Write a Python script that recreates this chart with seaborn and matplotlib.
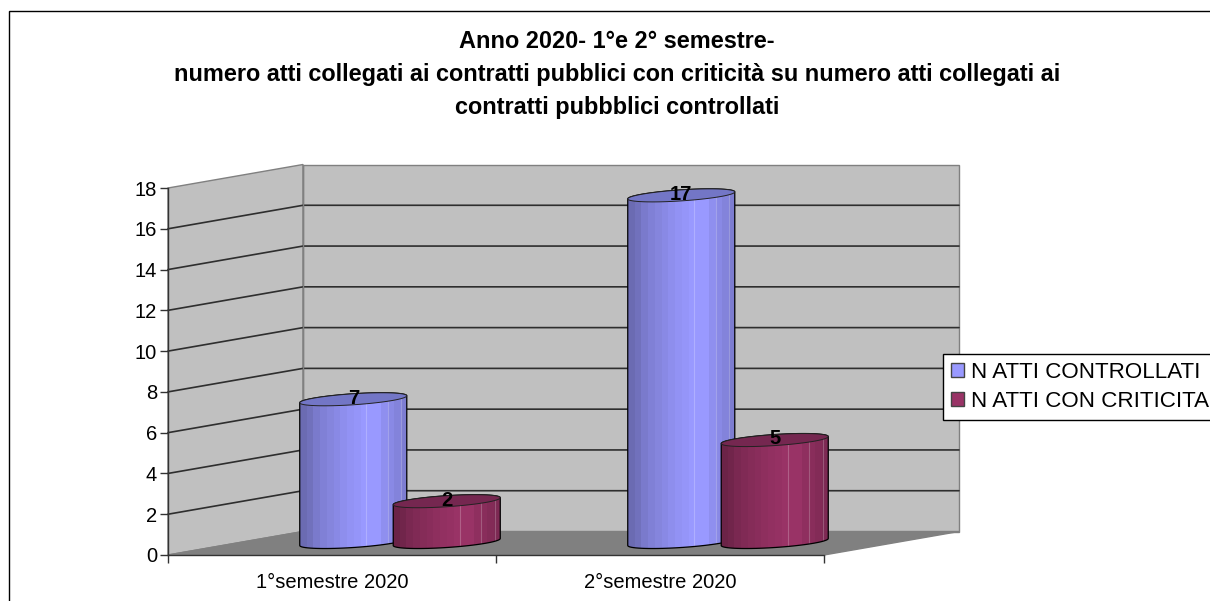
import numpy as np
import pandas as pd
import matplotlib
matplotlib.use("Agg")
import matplotlib.pyplot as plt
from matplotlib.patches import Polygon, Rectangle, PathPatch
from matplotlib.path import Path
from matplotlib.colors import to_rgb
import seaborn as sns

categories = ["1°semestre 2020", "2°semestre 2020"]
controllati = [7, 17]
criticita = [2, 5]
series_names = ["N ATTI CONTROLLATI", "N ATTI CON CRITICITA'"]
title = ("Anno 2020- 1°e 2° semestre-\n"
         "numero atti collegati ai contratti pubblici con criticità su numero atti collegati ai\n"
         "contratti pubbblici controllati")
y_ticks = list(range(0, 19, 2))
colors = ["#9999FF", "#993366"]
top_colors = ["#7376C6", "#752750"]

sns.set_theme(style="white")
plt.rcParams["font.family"] = ["Liberation Sans", "DejaVu Sans"]

W, H = 1210, 601
fig = plt.figure(figsize=(W / 100, H / 100), dpi=100, facecolor="white")


def axes_px(x0, x1, ytop, ybot, **kw):
    return fig.add_axes([x0 / W, 1 - ybot / H, (x1 - x0) / W, (ybot - ytop) / H], **kw)


# pixel-space background: frame, walls, floor, grid
bg = axes_px(0, W, 0, H, zorder=0)
bg.set_xlim(0, W)
bg.set_ylim(H, 0)
bg.axis("off")

fx0, fx1, fy0, fy18 = 168, 824, 555, 188
dx, dy = 135, -23.5
bg.add_patch(Rectangle((8.5, 10.5), W, H, fc="white", ec="black", lw=1))
bg.add_patch(Polygon([(fx0, fy18), (fx0 + dx, fy18 + dy), (fx0 + dx, fy0 + dy), (fx0, fy0)],
                     fc="#C0C0C0", ec="#808080", lw=1))
bg.add_patch(Rectangle((fx0 + dx, fy18 + dy), fx1 - fx0, fy0 - fy18,
                       fc="#C0C0C0", ec="#808080", lw=1))
bg.add_patch(Polygon([(fx0, fy0), (fx0 + dx, fy0 + dy), (fx1 + dx, fy0 + dy), (fx1, fy0)],
                     fc="#808080", ec="#808080", lw=1))

# front plane: axis scales, ticks and labels
front = axes_px(fx0, fx1, fy18, fy0, zorder=1)
front.patch.set_alpha(0)
front.set_xlim(-0.5, 1.5)
front.set_ylim(0, 18)
front.set_yticks(y_ticks)
front.set_xticks([-0.5, 0.5, 1.5])
front.set_xticklabels([])
front.set_xticks([0, 1], categories, minor=True)
front.tick_params(axis="both", which="major", length=6, width=1, color="#333333",
                  labelsize=14.5, labelcolor="black", pad=2, left=True, bottom=True)
front.tick_params(axis="x", which="minor", length=0, labelsize=14.5, pad=13, labelcolor="black")
for s in ["top", "right"]:
    front.spines[s].set_visible(False)
for s in ["left", "bottom"]:
    front.spines[s].set_color("#333333")
    front.spines[s].set_linewidth(1)

for v in y_ticks[1:-1]:
    py = fy0 + (fy18 - fy0) * v / 18
    bg.plot([fx0, fx0 + dx, fx1 + dx], [py, py + dy, py + dy], color="#2E2E2E", lw=1.2)
bg.plot([fx0 + dx] * 2, [fy18 + dy, fy0 + dy], color="#808080", lw=1)

# bars: seaborn bars on an axes shifted into the depth of the plot
ax = axes_px(fx0 + 68, fx1 + 68, 175, 552.2, zorder=2)
ax.patch.set_alpha(0)
df = pd.DataFrame({
    "cat": categories * 2,
    "val": controllati + criticita,
    "serie": [series_names[0]] * 2 + [series_names[1]] * 2,
})
sns.barplot(data=df, x="cat", y="val", hue="serie", palette=colors, width=0.57, gap=-0.145,
            ax=ax, saturation=1, legend=True, errorbar=None, linewidth=0)
ax.set_xlim(-0.5, 1.5)
ax.set_ylim(-0.5, 18)
xlim, ylim = ax.get_xlim(), ax.get_ylim()

bands = np.array([0.70, 0.74, 0.80, 0.84, 0.87, 0.90, 0.93, 0.96, 0.98, 1.0, 1.0, 1.0, 0.94, 0.90, 0.86, 0.82])
ell_b = 5.5 / 20.39
shear = 3.5 / 20.39
t_top = np.linspace(np.pi, 0, 40)
t_bot = np.linspace(0, -np.pi, 40)

for k, (cont, col, tcol) in enumerate(zip(ax.containers, colors, top_colors)):
    rgb = np.array(to_rgb(col))
    strip = np.clip(bands[:, None] * rgb, 0, 1)
    for rect in cont:
        xl, w, v = rect.get_x(), rect.get_width(), rect.get_height()
        a, cx = w / 2, xl + w / 2
        px = np.r_[cx + a * np.cos(t_top), cx + a * np.cos(t_bot)]
        py = np.r_[v + ell_b * np.sin(t_top) + shear * np.cos(t_top),
                   ell_b * np.sin(t_bot) + shear * np.cos(t_bot)]
        verts = np.c_[px, py]
        z = 2 + k
        path = Path(np.r_[verts, verts[:1]], closed=True)
        clip = PathPatch(path, transform=ax.transData, fc="none", ec="black", lw=0.9, zorder=z + 0.3)
        ax.add_patch(clip)
        rect.set_clip_path(clip)
        rect.set_zorder(z)
        im = ax.imshow(strip[None, :, :], extent=[xl, xl + w, -1, v + 1], aspect="auto",
                       interpolation="nearest", zorder=z + 0.1)
        im.set_clip_path(clip)
        for f in (0.62, 0.82, 0.95):
            ln, = ax.plot([xl + f * w] * 2, [-1, v + 1], color="white", alpha=0.22, lw=0.8, zorder=z + 0.2)
            ln.set_clip_path(clip)
        tt = np.linspace(0, 2 * np.pi, 80)
        ax.add_patch(Polygon(np.c_[cx + a * np.cos(tt), v + ell_b * np.sin(tt) + shear * np.cos(tt)],
                             closed=True, fc=tcol, ec="#222222", lw=0.7, zorder=z + 0.4))
    ax.bar_label(cont, fontsize=14.5, fontweight="bold", color="black", padding=-6, zorder=10)

ax.set_xlim(xlim)
ax.set_ylim(ylim)
ax.axis("off")

handles, labels = ax.get_legend_handles_labels()
ax.get_legend().remove()
leg = fig.legend(handles, labels, loc="upper left", bbox_to_anchor=(943 / W, 1 - 354 / H),
                 fontsize=16.1, frameon=True, fancybox=False, framealpha=1, edgecolor="black",
                 handlelength=0.6, handleheight=0.6, handletextpad=0.3, labelspacing=0.36,
                 borderpad=0.36, borderaxespad=0, labelcolor="black")
leg.set_zorder(20)
leg.get_frame().set_linewidth(1)
for h in leg.get_patches():
    h.set_edgecolor("#444444")
    h.set_linewidth(1)

fig.text(617 / W, 1 - 74.5 / H, title, ha="center", va="center", fontsize=16.9, fontweight="bold",
         color="black", linespacing=1.55)

fig.savefig("out.png", dpi=100)
